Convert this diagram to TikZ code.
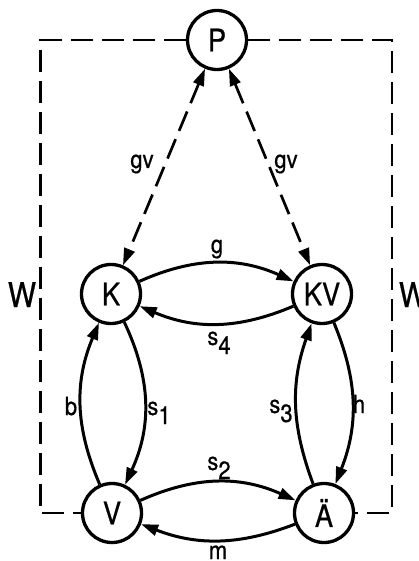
\documentclass[tikz,border=0pt]{standalone}
\usepackage{fontspec}
\setmainfont[FakeStretch=0.88]{TeX Gyre Heros}
\usetikzlibrary{arrows.meta}
\newcommand\sbs[1]{\raisebox{-9pt}{#1}}
\newcommand\thk{\addfontfeature{FakeBold=0.6}}
\begin{document}
\begin{tikzpicture}[x=1pt,y=-1pt,
  state/.style={circle,draw,line width=3.3pt,minimum size=59pt,inner sep=0pt,
    font=\fontsize{31}{31}\selectfont\thk},
  arr/.style={line width=3pt,-{Triangle[length=17pt,width=11pt]}},
  darr/.style={line width=2.7pt,dash pattern=on 21pt off 9pt,
    {Triangle[length=17pt,width=11pt]}-{Triangle[length=17pt,width=11pt]}},
  dsh/.style={line width=2.8pt,dash pattern=on 22pt off 9pt},
  lab/.style={font=\fontsize{25}{25}\selectfont\thk,inner sep=0pt,anchor=base},
  wlab/.style={font=\fontsize{34}{34}\selectfont\thk,inner sep=0pt,anchor=base}]
\useasboundingbox (0,0) rectangle (418,561);
\node[state] (P)  at (217,40)  {P};
\node[state] (K)  at (111,294) {K};
\node[state] (KV) at (322,294) {KV};
\node[state] (V)  at (112,513) {V};
\node[state] (A)  at (324,513) {Ä};
\coordinate (TL) at (40.5,40);
\coordinate (BL) at (40.5,513);
\coordinate (TR) at (392,40);
\coordinate (BR) at (392,513);
% dashed frame
\draw[dsh] (P) -- (TL) -- (BL) -- (V);
\draw[dsh] (P) -- (TR) -- (BR) -- (A);
% gv
\draw[darr] (P) -- (K);
\draw[darr] (P) -- (KV);
% solid transitions
\draw[arr] (K) to[bend left=24] (KV);
\draw[arr] (KV) to[bend left=23] (K);
\draw[arr] (K) to[bend left=25] (V);
\draw[arr] (V) to[bend left=23] (K);
\draw[arr] (KV) to[bend left=22] (A);
\draw[arr] (A) to[bend left=20] (KV);
\draw[arr] (V) to[bend left=24] (A);
\draw[arr] (A) to[bend left=21] (V);
% labels
\node[lab] (lgv1) at (142,168) {gv};
\node[lab] (lgv2) at (286,168) {gv};
\node[lab] (lg)   at (217,253) {g};
\node[lab] (ls4)  at (219,345) {s\sbs{4}};
\node[lab] (lb)   at (71,415)  {b};
\node[lab] (ls1)  at (159,415) {s\sbs{1}};
\node[lab] (ls3)  at (281,413) {s\sbs{3}};
\node[lab] (lh)   at (359,413) {h};
\node[lab] (ls2)  at (219,470) {s\sbs{2}};
\node[lab] (lm)   at (218,559) {m};
\node[wlab] (W1)  at (22,307)  {W};
\node[wlab] (W2)  at (413,307) {W};
\end{tikzpicture}
\end{document}
